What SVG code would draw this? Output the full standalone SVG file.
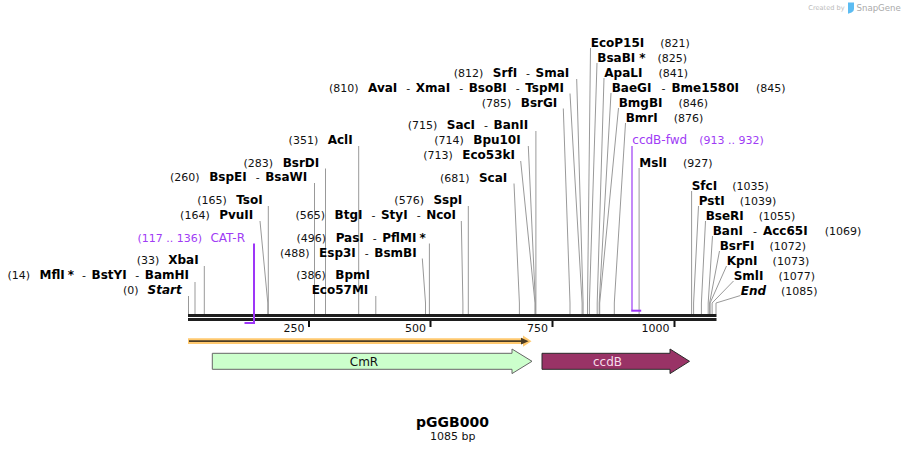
<svg xmlns="http://www.w3.org/2000/svg" width="905" height="453" viewBox="0 0 905 453">
<style>
text{font-family:"DejaVu Sans",Verdana,sans-serif;font-size:11px;fill:#111}
.b{font-size:12px;font-weight:bold;fill:#000}
.bi{font-size:12px;font-weight:bold;font-style:italic;fill:#000}
.p{fill:#a03cf5}
.pn{font-size:12px}
.cn line,.cn polyline{fill:none;stroke:#999;stroke-width:1}
.tick{fill:#111}
.bb{fill:#1e1e1e}
</style>
<rect width="905" height="453" fill="#fff"/>

<g id="credit">
<text x="808.3" y="10" style="font-size:6.6px;fill:#bbb">Created by</text>
<path d="M848 2.5h6v6.5q0 2.5-2.5 3.5l-3.5 1.2z" fill="#5cbcf2"/>
<text x="856.5" y="10.5" style="font-size:8.6px;fill:#aaa">SnapGene</text>
</g>

<g id="connectors" class="cn">
<polyline points="188.5,296 188.5,314"/>
<polyline points="195,282 195,314"/>
<polyline points="204.3,266 204.3,314"/>
<polyline points="260,221 267.8,303 267.8,314"/>
<polyline points="268.3,206 268.3,314"/>
<polyline points="314.5,183 314.5,314"/>
<polyline points="325.5,168.5 325.5,314"/>
<polyline points="358.7,146 358.7,314"/>
<polyline points="375.8,296 375.8,314"/>
<polyline points="422.3,258.5 425.5,303 425.5,314"/>
<polyline points="429.4,243.5 429.4,314"/>
<polyline points="461.3,221 462.9,303 462.9,314"/>
<polyline points="468.3,206 468.3,314"/>
<polyline points="514,183.5 519.4,303 519.4,314"/>
<polyline points="520.7,161 535,303 535,314"/>
<polyline points="528.3,146 535.4,303 535.4,314"/>
<polyline points="535.9,131 535.9,314"/>
<polyline points="563.3,108.5 570,303 570,314"/>
<polyline points="570,93.5 582.1,303 582.1,314"/>
<polyline points="576.7,79 583.1,303 583.1,314"/>
<polyline points="590.5,48 587.5,303 587.5,314"/>
<polyline points="597,63 589.4,303 589.4,314"/>
<polyline points="604,78 597.2,303 597.2,314"/>
<polyline points="611,93 599.2,303 599.2,314"/>
<polyline points="618.5,108 599.7,303 599.7,314"/>
<polyline points="625.5,123 614.3,303 614.3,314"/>
<polyline points="639.1,168 639.1,314"/>
<polyline points="691.6,191 691.6,314"/>
<polyline points="698.5,206 693.6,303 693.6,314"/>
<polyline points="705.5,221 701.4,303 701.4,314"/>
<polyline points="712.5,236 708.2,303 708.2,314"/>
<polyline points="719.5,251 709.6,303 709.6,314"/>
<polyline points="726.5,266 710.1,303 710.1,314"/>
<polyline points="733.5,281 712.1,303 712.1,314"/>
<polyline points="740.5,295.5 716,303 716,314"/>
</g>

<g id="backbone">
<rect class="bb" x="188" y="314" width="528.5" height="3"/>
<rect class="bb" x="188" y="318" width="528.5" height="3"/>
<rect class="tick" x="308" y="321" width="2" height="6"/>
<rect class="tick" x="429.5" y="321" width="2" height="6"/>
<rect class="tick" x="551.5" y="321" width="2" height="6"/>
<rect class="tick" x="673.5" y="321" width="2" height="6"/>
<text x="304.5" y="331.5" text-anchor="end">250</text>
<text x="426" y="331.5" text-anchor="end">500</text>
<text x="548" y="331.5" text-anchor="end">750</text>
<text x="669.5" y="331.5" text-anchor="end">1000</text>
</g>

<g id="primer-CAT-R">
<line x1="254" y1="243.5" x2="254" y2="324" stroke="#9d36f7" stroke-width="2"/>
<rect x="244.5" y="322" width="10.5" height="2" fill="#9d36f7"/>
<text x="245" y="241.5" text-anchor="end" class="p">(117 .. 136)<tspan class="pn" dx="8.5">CAT-R</tspan></text>
</g>
<g id="primer-ccdB-fwd">
<line x1="632" y1="146" x2="632" y2="310" stroke="#b56cf7" stroke-width="1.6"/>
<rect x="631.2" y="309.7" width="10" height="2" fill="#9d36f7"/>
<text x="632.3" y="144" class="p"><tspan class="pn">ccdB-fwd</tspan><tspan dx="12">(913 .. 932)</tspan></text>
</g>

<g id="orf">
<polygon points="188,338.3 523,338.3 523,335.6 531.5,341.2 523,346.8 523,344.1 188,344.1" fill="#ffc96f"/>
<line x1="189" y1="341.2" x2="523" y2="341.2" stroke="#4b3c24" stroke-width="1.8"/>
<polygon points="521,337.8 528.6,341.2 521,344.6" fill="#4b3c24"/>
</g>
<g id="feature-CmR">
<polygon points="212.3,353.3 512,353.3 512,349 532,361.3 512,373.6 512,369.3 212.3,369.3" fill="#ccffcc" stroke="#666" stroke-width="1"/>
<text x="364" y="365.5" text-anchor="middle" style="font-size:12px">CmR</text>
</g>
<g id="feature-ccdB">
<polygon points="542,353.3 670,353.3 670,349 689.5,361.3 670,373.6 670,369.3 542,369.3" fill="#993366" stroke="#2a2a2a" stroke-width="1"/>
<text x="607.5" y="365.5" text-anchor="middle" style="font-size:12px;fill:#f6dcea">ccdB</text>
</g>

<g id="site-Start"><text x="181.7" y="294" text-anchor="end">(0)<tspan class="bi" dx="9">Start</tspan></text></g>
<g id="site-MflI"><text x="189" y="279" text-anchor="end">(14)<tspan class="b" dx="9.5">MflI</tspan><tspan class="b" dx="3">*</tspan><tspan dx="8">-</tspan><tspan class="b" dx="5.5">BstYI</tspan><tspan dx="8.5">-</tspan><tspan class="b" dx="5.5">BamHI</tspan></text></g>
<g id="site-XbaI"><text x="198.7" y="264" text-anchor="end">(33)<tspan class="b" dx="9">XbaI</tspan></text></g>
<g id="site-PvuII"><text x="253.3" y="219" text-anchor="end">(164)<tspan class="b" dx="9.5">PvuII</tspan></text></g>
<g id="site-TsoI"><text x="262.7" y="204" text-anchor="end">(165)<tspan class="b" dx="9.5">TsoI</tspan></text></g>
<g id="site-BspEI"><text x="307.3" y="181" text-anchor="end">(260)<tspan class="b" dx="9.5">BspEI</tspan><tspan dx="9">-</tspan><tspan class="b" dx="5.5">BsaWI</tspan></text></g>
<g id="site-BsrDI"><text x="319.3" y="166.5" text-anchor="end">(283)<tspan class="b" dx="9.5">BsrDI</tspan></text></g>
<g id="site-AclI"><text x="352.7" y="144" text-anchor="end">(351)<tspan class="b" dx="9.5">AclI</tspan></text></g>
<g id="site-BpmI"><text x="370" y="279" text-anchor="end">(386)<tspan class="b" dx="9.5">BpmI</tspan></text><text x="368.3" y="294" text-anchor="end" class="b">Eco57MI</text></g>
<g id="site-Esp3I"><text x="416.7" y="256.5" text-anchor="end">(488)<tspan class="b" dx="9.5">Esp3I</tspan><tspan dx="9">-</tspan><tspan class="b" dx="5.5">BsmBI</tspan></text></g>
<g id="site-PasI"><text x="425.7" y="241.5" text-anchor="end">(496)<tspan class="b" dx="9.5">PasI</tspan><tspan dx="9">-</tspan><tspan class="b" dx="5.5">PflMI</tspan><tspan class="b" dx="3">*</tspan></text></g>
<g id="site-BtgI"><text x="456" y="219" text-anchor="end">(565)<tspan class="b" dx="9.5">BtgI</tspan><tspan dx="9">-</tspan><tspan class="b" dx="5.5">StyI</tspan><tspan dx="9">-</tspan><tspan class="b" dx="5.5">NcoI</tspan></text></g>
<g id="site-SspI"><text x="462.3" y="204" text-anchor="end">(576)<tspan class="b" dx="9.5">SspI</tspan></text></g>
<g id="site-ScaI"><text x="507.3" y="181.5" text-anchor="end">(681)<tspan class="b" dx="9.5">ScaI</tspan></text></g>
<g id="site-Eco53kI"><text x="515" y="159" text-anchor="end">(713)<tspan class="b" dx="9.5">Eco53kI</tspan></text></g>
<g id="site-Bpu10I"><text x="520.7" y="144" text-anchor="end">(714)<tspan class="b" dx="9.5">Bpu10I</tspan></text></g>
<g id="site-SacI"><text x="528.3" y="129" text-anchor="end">(715)<tspan class="b" dx="9.5">SacI</tspan><tspan dx="9">-</tspan><tspan class="b" dx="5.5">BanII</tspan></text></g>
<g id="site-BsrGI"><text x="557.3" y="106.5" text-anchor="end">(785)<tspan class="b" dx="9.5">BsrGI</tspan></text></g>
<g id="site-AvaI"><text x="564" y="91.5" text-anchor="end">(810)<tspan class="b" dx="9.5">AvaI</tspan><tspan dx="9">-</tspan><tspan class="b" dx="5.5">XmaI</tspan><tspan dx="9">-</tspan><tspan class="b" dx="5.5">BsoBI</tspan><tspan dx="9">-</tspan><tspan class="b" dx="5.5">TspMI</tspan></text></g>
<g id="site-SrfI"><text x="569.3" y="77" text-anchor="end">(812)<tspan class="b" dx="9.5">SrfI</tspan><tspan dx="9">-</tspan><tspan class="b" dx="5.5">SmaI</tspan></text></g>

<g id="site-EcoP15I"><text x="590.7" y="46.5"><tspan class="b">EcoP15I</tspan><tspan dx="16">(821)</tspan></text></g>
<g id="site-BsaBI"><text x="597.3" y="61.5"><tspan class="b">BsaBI</tspan><tspan class="b" dx="4">*</tspan><tspan dx="12">(825)</tspan></text></g>
<g id="site-ApaLI"><text x="604.3" y="76.5"><tspan class="b">ApaLI</tspan><tspan dx="16">(841)</tspan></text></g>
<g id="site-BaeGI"><text x="611.7" y="91.5"><tspan class="b">BaeGI</tspan><tspan dx="10">-</tspan><tspan class="b" dx="6">Bme1580I</tspan><tspan dx="17">(845)</tspan></text></g>
<g id="site-BmgBI"><text x="618.7" y="106.5"><tspan class="b">BmgBI</tspan><tspan dx="16">(846)</tspan></text></g>
<g id="site-BmrI"><text x="625.7" y="121.5"><tspan class="b">BmrI</tspan><tspan dx="16">(876)</tspan></text></g>
<g id="site-MslI"><text x="639.3" y="166.5"><tspan class="b">MslI</tspan><tspan dx="16">(927)</tspan></text></g>
<g id="site-SfcI"><text x="691.7" y="189.5"><tspan class="b">SfcI</tspan><tspan dx="15">(1035)</tspan></text></g>
<g id="site-PstI"><text x="698.7" y="204.5"><tspan class="b">PstI</tspan><tspan dx="15">(1039)</tspan></text></g>
<g id="site-BseRI"><text x="705.7" y="219.5"><tspan class="b">BseRI</tspan><tspan dx="15">(1055)</tspan></text></g>
<g id="site-BanI"><text x="712.7" y="234.5"><tspan class="b">BanI</tspan><tspan dx="10">-</tspan><tspan class="b" dx="6">Acc65I</tspan><tspan dx="17">(1069)</tspan></text></g>
<g id="site-BsrFI"><text x="719.7" y="249.5"><tspan class="b">BsrFI</tspan><tspan dx="15">(1072)</tspan></text></g>
<g id="site-KpnI"><text x="726.7" y="264.5"><tspan class="b">KpnI</tspan><tspan dx="15">(1073)</tspan></text></g>
<g id="site-SmlI"><text x="733.7" y="279.5"><tspan class="b">SmlI</tspan><tspan dx="15">(1077)</tspan></text></g>
<g id="site-End"><text x="740.7" y="294.5"><tspan class="bi">End</tspan><tspan dx="15">(1085)</tspan></text></g>

<g id="title">
<text x="452.5" y="426.5" text-anchor="middle" style="font-size:14px;font-weight:bold;fill:#000">pGGB000</text>
<text x="452.8" y="440" text-anchor="middle">1085 bp</text>
</g>
</svg>
